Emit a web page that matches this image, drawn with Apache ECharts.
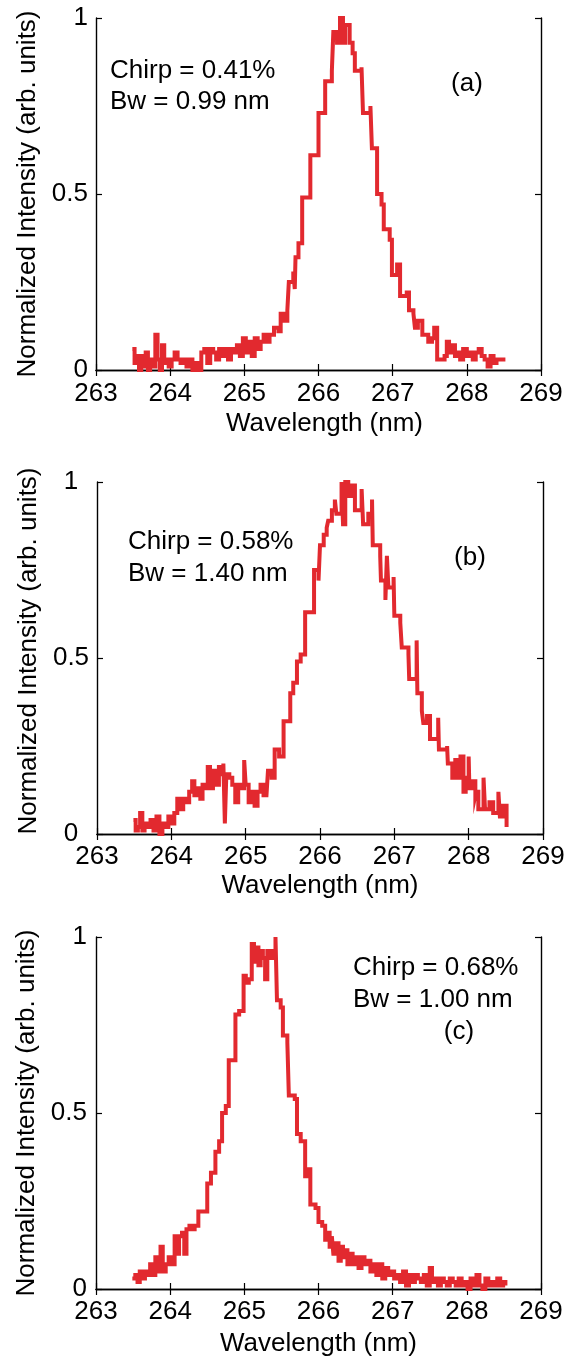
<!DOCTYPE html>
<html>
<head>
<meta charset="utf-8">
<script src="https://cdn.jsdelivr.net/npm/echarts@6/dist/echarts.min.js"></script>
<style>
  html, body { margin: 0; padding: 0; background: #fff; }
  #chart { width: 584px; height: 1361px; }
</style>
</head>
<body>
<div id="chart"></div>
<script>
// Harmonic spectra for three chirp settings (normalized intensity vs wavelength).
// Each value holds from its wavelength up to the next one (stair-step trace).

const wavelengthA = [
  263.49, 263.52, 263.55, 263.58, 263.61, 263.64, 263.67, 263.70, 263.73, 263.76,
  263.80, 263.83, 263.86, 263.89, 263.92, 263.95, 263.98, 264.02, 264.06, 264.10,
  264.14, 264.18, 264.22, 264.26, 264.30, 264.34, 264.38, 264.42, 264.46, 264.50,
  264.54, 264.58, 264.62, 264.66, 264.70, 264.74, 264.78, 264.82, 264.86, 264.90,
  264.94, 264.98, 265.02, 265.06, 265.10, 265.14, 265.18, 265.22, 265.26, 265.30,
  265.34, 265.40, 265.46, 265.49, 265.54, 265.58, 265.60, 265.66, 265.68, 265.69,
  265.73, 265.78, 265.89, 266.00, 266.09, 266.18, 266.20, 266.25, 266.29, 266.33,
  266.36, 266.42, 266.46, 266.49, 266.58, 266.60, 266.70, 266.72, 266.79, 266.85,
  266.88, 266.96, 266.99, 267.06, 267.10, 267.19, 267.22, 267.28, 267.30, 267.34,
  267.40, 267.48, 267.53, 267.56, 267.60, 267.70, 267.73, 267.76, 267.80, 267.84,
  267.88, 267.91, 267.95, 268.00, 268.04, 268.08, 268.12, 268.16, 268.20, 268.24,
  268.28, 268.32, 268.36, 268.40, 268.45, 268.52
];
const intensityA = [
  0.06, 0.02, 0.04, 0.00, 0.04, 0.01, 0.05, 0.00, 0.03, 0.01,
  0.10, 0.03, 0.00, 0.07, 0.02, 0.03, 0.01, 0.03, 0.05, 0.03,
  0.02, 0.03, 0.01, 0.03, 0.00, 0.02, 0.00, 0.05, 0.06, 0.02,
  0.06, 0.05, 0.03, 0.06, 0.04, 0.06, 0.03, 0.06, 0.05, 0.07,
  0.04, 0.09, 0.05, 0.08, 0.04, 0.09, 0.06, 0.08, 0.10, 0.08,
  0.10, 0.12, 0.11, 0.16, 0.14, 0.17, 0.25, 0.28, 0.23, 0.32,
  0.36, 0.49, 0.61, 0.73, 0.82, 0.85, 0.96, 0.93, 1.00, 0.93,
  0.98, 0.93, 0.90, 0.85, 0.86, 0.73, 0.75, 0.63, 0.50, 0.47,
  0.40, 0.37, 0.27, 0.30, 0.21, 0.22, 0.17, 0.16, 0.12, 0.14,
  0.10, 0.08, 0.09, 0.12, 0.03, 0.04, 0.08, 0.05, 0.07, 0.04,
  0.05, 0.03, 0.06, 0.04, 0.05, 0.03, 0.05, 0.06, 0.04, 0.03,
  0.01, 0.04, 0.02, 0.03, 0.03, 0.03
];

const wavelengthB = [
  263.49, 263.52, 263.55, 263.58, 263.61, 263.64, 263.68, 263.72, 263.76, 263.80,
  263.84, 263.88, 263.92, 263.96, 264.00, 264.04, 264.08, 264.12, 264.16, 264.20,
  264.24, 264.28, 264.31, 264.35, 264.39, 264.42, 264.46, 264.49, 264.52, 264.56,
  264.60, 264.64, 264.67, 264.70, 264.72, 264.74, 264.78, 264.82, 264.86, 264.90,
  264.94, 264.98, 265.00, 265.04, 265.08, 265.12, 265.16, 265.20, 265.24, 265.28,
  265.30, 265.35, 265.39, 265.45, 265.51, 265.60, 265.64, 265.69, 265.74, 265.80,
  265.92, 265.98, 266.00, 266.05, 266.09, 266.11, 266.16, 266.20, 266.22, 266.29,
  266.31, 266.34, 266.38, 266.43, 266.47, 266.52, 266.56, 266.58, 266.65, 266.70,
  266.71, 266.81, 266.82, 266.88, 266.90, 266.92, 266.99, 267.00, 267.08, 267.10,
  267.19, 267.20, 267.30, 267.31, 267.37, 267.39, 267.44, 267.48, 267.59, 267.60,
  267.71, 267.72, 267.78, 267.82, 267.86, 267.89, 267.93, 267.96, 268.00, 268.01,
  268.05, 268.09, 268.10, 268.13, 268.20, 268.22, 268.28, 268.33, 268.40, 268.42,
  268.46, 268.51
];
const intensityB = [
  0.04, 0.01, 0.02, 0.06, 0.01, 0.03, 0.02, 0.04, 0.01, 0.05,
  0.00, 0.03, 0.02, 0.05, 0.03, 0.06, 0.10, 0.07, 0.10, 0.09,
  0.12, 0.15, 0.11, 0.13, 0.10, 0.14, 0.13, 0.19, 0.13, 0.18,
  0.14, 0.19, 0.17, 0.20, 0.03, 0.17, 0.16, 0.14, 0.09, 0.14,
  0.13, 0.21, 0.14, 0.09, 0.12, 0.08, 0.12, 0.14, 0.11, 0.11,
  0.18, 0.16, 0.24, 0.22, 0.32, 0.40, 0.43, 0.49, 0.51, 0.63,
  0.75, 0.72, 0.82, 0.85, 0.87, 0.89, 0.92, 0.95, 0.91, 1.00,
  0.88, 1.00, 0.96, 0.99, 0.92, 0.92, 0.98, 0.88, 0.91, 0.95,
  0.82, 0.79, 0.72, 0.665, 0.79, 0.70, 0.73, 0.62, 0.60, 0.53,
  0.51, 0.44, 0.55, 0.40, 0.35, 0.315, 0.335, 0.27, 0.33, 0.24,
  0.25, 0.20, 0.16, 0.21, 0.16, 0.22, 0.12, 0.16, 0.22, 0.13,
  0.15, 0.11, 0.12, 0.07, 0.16, 0.07, 0.09, 0.06, 0.12, 0.05,
  0.08, 0.02
];

const wavelengthC = [
  263.49, 263.53, 263.56, 263.59, 263.62, 263.66, 263.69, 263.73, 263.76, 263.80,
  263.84, 263.87, 263.90, 263.94, 263.98, 264.02, 264.06, 264.09, 264.12, 264.16,
  264.19, 264.22, 264.26, 264.29, 264.33, 264.38, 264.44, 264.50, 264.55, 264.61,
  264.66, 264.70, 264.75, 264.79, 264.88, 264.93, 264.99, 265.02, 265.06, 265.10,
  265.13, 265.16, 265.19, 265.22, 265.25, 265.28, 265.31, 265.35, 265.38, 265.42,
  265.44, 265.49, 265.52, 265.58, 265.60, 265.68, 265.71, 265.76, 265.82, 265.86,
  265.89, 265.96, 266.00, 266.05, 266.09, 266.12, 266.15, 266.18, 266.20, 266.24,
  266.27, 266.30, 266.33, 266.36, 266.39, 266.42, 266.46, 266.50, 266.54, 266.58,
  266.62, 266.66, 266.70, 266.74, 266.78, 266.82, 266.86, 266.90, 266.94, 266.98,
  267.02, 267.06, 267.10, 267.14, 267.18, 267.22, 267.26, 267.30, 267.34, 267.38,
  267.42, 267.46, 267.50, 267.53, 267.57, 267.61, 267.65, 267.69, 267.73, 267.77,
  267.81, 267.85, 267.89, 267.93, 267.97, 268.01, 268.05, 268.09, 268.13, 268.17,
  268.21, 268.25, 268.29, 268.33, 268.37, 268.41, 268.45, 268.49, 268.52
];
const intensityC = [
  0.03, 0.04, 0.02, 0.05, 0.03, 0.05, 0.04, 0.07, 0.04, 0.09,
  0.05, 0.12, 0.05, 0.07, 0.09, 0.07, 0.15, 0.10, 0.15, 0.16,
  0.10, 0.17, 0.18, 0.17, 0.18, 0.22, 0.22, 0.30, 0.33, 0.39,
  0.42, 0.50, 0.52, 0.65, 0.78, 0.79, 0.89, 0.87, 0.88, 0.98,
  0.93, 0.97, 0.92, 0.96, 0.94, 0.88, 0.96, 0.94, 0.96, 1.00,
  0.82, 0.80, 0.72, 0.70, 0.55, 0.54, 0.44, 0.42, 0.32, 0.34,
  0.24, 0.23, 0.19, 0.18, 0.14, 0.16, 0.12, 0.15, 0.10, 0.13,
  0.08, 0.12, 0.09, 0.11, 0.07, 0.10, 0.07, 0.09, 0.06, 0.09,
  0.07, 0.08, 0.05, 0.07, 0.04, 0.07, 0.03, 0.06, 0.04, 0.05,
  0.03, 0.04, 0.02, 0.05, 0.01, 0.04, 0.02, 0.04, 0.03, 0.02,
  0.04, 0.01, 0.06, 0.02, 0.03, 0.01, 0.03, 0.02, 0.01, 0.03,
  0.02, 0.01, 0.03, 0.01, 0.02, 0.00, 0.03, 0.01, 0.04, 0.01,
  0.00, 0.03, 0.01, 0.02, 0.01, 0.03, 0.01, 0.02, 0.01
];

const xTicks = { min: 263, max: 269, interval: 1 };
const yTicks = { min: 0, max: 1, interval: 0.5 };

const chirpLabels = ['Chirp = 0.41%', 'Chirp = 0.58%', 'Chirp = 0.68%'];
const bwLabels = ['Bw = 0.99 nm', 'Bw = 1.40 nm', 'Bw = 1.00 nm'];
const panelTags = ['(a)', '(b)', '(c)'];
const xTitle = 'Wavelength (nm)';
const yTitle = 'Normalized Intensity (arb. units)';

const FONT = '"Liberation Sans", Arial, Helvetica, sans-serif';
const FS = 26;
const RED = '#e2292f';

const panels = [
  { w: wavelengthA, v: intensityA, grid: { left: 96, top: 18, width: 445, height: 352 },
    xGap: 41, xPad: [0, 0, 0, 12], yGap: 49, yPad: [0, 0, 0, 0],
    yAlign: 'right', yMargin: 8, xMargin: 11,
    chirp: [110, 71], bw: [110, 102], tag: [467, 84] },
  { w: wavelengthB, v: intensityB, grid: { left: 97, top: 482, width: 446, height: 352 },
    xGap: 39, xPad: [0, 0, 0, 0], yGap: 46, yPad: [0, 0, 0, 14],
    yAlign: 'center', yMargin: 26, xMargin: 10,
    chirp: [128, 541.5], bw: [128, 573.5], tag: [470, 558] },
  { w: wavelengthC, v: intensityC, grid: { left: 96, top: 937, width: 445, height: 352 },
    xGap: 42, xPad: [0, 0, 0, 0], yGap: 49, yPad: [0, 0, 0, 0],
    yAlign: 'right', yMargin: 9, xMargin: 10,
    chirp: [353, 968], bw: [353, 999.5], tag: [459, 1032] }
];

const axisLine = { show: true, lineStyle: { color: '#000', width: 1.4 } };
const tickIn = { show: true, inside: true, length: 6, lineStyle: { color: '#000', width: 1.2 } };
const labelStyle = { color: '#000', fontFamily: FONT, fontSize: FS };

const grids = [], xAxes = [], yAxes = [], series = [], graphics = [];

panels.forEach((p, i) => {
  grids.push(Object.assign({ containLabel: false }, p.grid));
  // bottom axis with labels
  xAxes.push(Object.assign({
    type: 'value', gridIndex: i, position: 'bottom',
    name: xTitle, nameLocation: 'middle', nameGap: p.xGap,
    nameTextStyle: Object.assign({ padding: p.xPad }, labelStyle),
    axisLine: axisLine, axisTick: tickIn, splitLine: { show: false },
    axisLabel: Object.assign({ margin: p.xMargin }, labelStyle)
  }, xTicks));
  // top axis: frame and ticks only
  xAxes.push(Object.assign({
    type: 'value', gridIndex: i, position: 'top',
    axisLine: axisLine, axisTick: tickIn, splitLine: { show: false },
    axisLabel: { show: false }
  }, xTicks));
  // left axis with labels
  yAxes.push(Object.assign({
    type: 'value', gridIndex: i, position: 'left',
    name: yTitle, nameLocation: 'middle', nameGap: p.yGap,
    nameTextStyle: Object.assign({ padding: p.yPad }, labelStyle),
    axisLine: axisLine, axisTick: tickIn, splitLine: { show: false },
    axisLabel: Object.assign({ margin: p.yMargin, align: p.yAlign }, labelStyle)
  }, yTicks));
  // right axis: frame and ticks only
  yAxes.push(Object.assign({
    type: 'value', gridIndex: i, position: 'right',
    axisLine: axisLine, axisTick: tickIn, splitLine: { show: false },
    axisLabel: { show: false }
  }, yTicks));

  series.push({
    type: 'line', xAxisIndex: 2 * i, yAxisIndex: 2 * i,
    data: p.w.map((x, k) => [x, p.v[k]]),
    step: 'end', showSymbol: false, symbol: 'none', clip: false,
    lineStyle: { color: RED, width: 4, join: 'miter', cap: 'butt' },
    silent: true, animation: false
  });

  const txt = (pos, s, align) => ({
    type: 'text', x: pos[0], y: pos[1], silent: true,
    style: { text: s, fill: '#000', font: FS + 'px ' + FONT, align: align, verticalAlign: 'middle' }
  });
  graphics.push(txt(p.chirp, chirpLabels[i], 'left'));
  graphics.push(txt(p.bw, bwLabels[i], 'left'));
  graphics.push(txt(p.tag, panelTags[i], 'center'));
});

const chart = echarts.init(document.getElementById('chart'), null, { renderer: 'canvas' });
chart.setOption({
  animation: false,
  backgroundColor: '#fff',
  grid: grids,
  xAxis: xAxes,
  yAxis: yAxes,
  series: series,
  graphic: graphics
});
</script>
</body>
</html>
